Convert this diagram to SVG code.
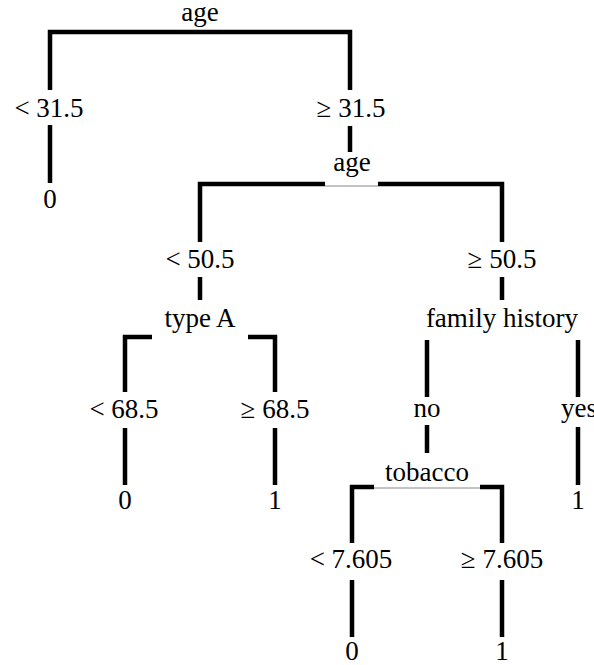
<svg xmlns="http://www.w3.org/2000/svg" width="594" height="665" viewBox="0 0 594 665">
<style>
text{font-family:"Liberation Serif","DejaVu Serif",serif;font-size:27px;fill:#000;text-anchor:middle}
.e{fill:none;stroke:#000;stroke-width:4.5;stroke-linejoin:miter;stroke-linecap:butt}
.t{fill:none;stroke:#888;stroke-width:1}
</style>
<rect width="594" height="665" fill="#fff"/>
<g id="connectors">
<path class="e" d="M50,90 V32 H350 V90"/>
<path class="e" d="M50,125 V183"/>
<path class="e" d="M350,126 V152"/>
<path class="e" d="M200,242 V184 H325"/>
<path class="e" d="M378,184 H502 V242"/>
<path class="t" d="M325,186 H378"/>
<path class="e" d="M200,277 V300"/>
<path class="e" d="M502,277 V300"/>
<path class="e" d="M125,392 V337 H152"/>
<path class="e" d="M248,337 H275 V392"/>
<path class="e" d="M125,428 V485"/>
<path class="e" d="M275,428 V485"/>
<path class="e" d="M427,340 V397"/>
<path class="e" d="M427,425 V453"/>
<path class="e" d="M578,340 V397"/>
<path class="e" d="M578,427 V485"/>
<path class="e" d="M352,543 V487 H374"/>
<path class="e" d="M480,487 H502 V543"/>
<path class="t" d="M374,488 H480"/>
<path class="e" d="M352,580 V637"/>
<path class="e" d="M502,580 V637"/>
</g>
<g id="labels">
<text x="49" y="117">&lt; 31.5</text>
<text x="351" y="117">≥ 31.5</text>
<text x="200" y="268">&lt; 50.5</text>
<text x="502" y="268">≥ 50.5</text>
<text x="124" y="418">&lt; 68.5</text>
<text x="275" y="418">≥ 68.5</text>
<text x="427" y="417">no</text>
<text x="579" y="417">yes</text>
<text x="351" y="568">&lt; 7.605</text>
<text x="502" y="568">≥ 7.605</text>
</g>
<g id="n-age1"><text x="200" y="21">age</text></g>
<g id="n-leaf1"><text x="50" y="208">0</text></g>
<g id="n-age2"><text x="352" y="171">age</text></g>
<g id="n-typeA"><text x="200" y="327">type A</text></g>
<g id="n-family"><text x="502" y="327">family history</text></g>
<g id="n-leaf2"><text x="125" y="509">0</text></g>
<g id="n-leaf3"><text x="275" y="509">1</text></g>
<g id="n-tobacco"><text x="427" y="481">tobacco</text></g>
<g id="n-leaf4"><text x="578" y="509">1</text></g>
<g id="n-leaf5"><text x="352" y="660">0</text></g>
<g id="n-leaf6"><text x="502" y="660">1</text></g>
</svg>
